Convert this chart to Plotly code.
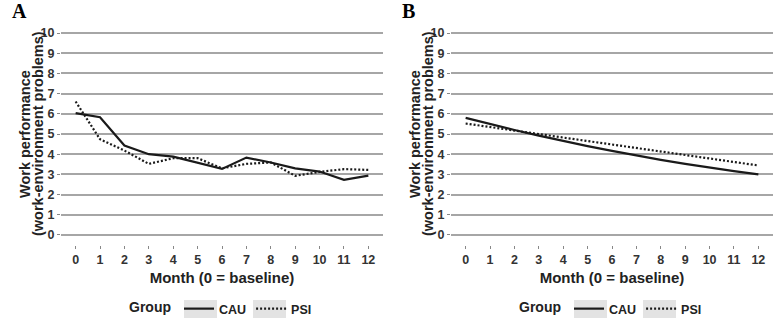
import plotly.graph_objects as go

months = list(range(13))
month_labels = [str(m) for m in months]
y_ticks = list(range(11))

# Panel A: observed means
cau_a = [6.03, 5.83, 4.43, 4.00, 3.88, 3.59, 3.27, 3.83, 3.59, 3.30, 3.14, 2.73, 2.94]
psi_a = [6.61, 4.74, 4.18, 3.52, 3.80, 3.80, 3.30, 3.52, 3.59, 2.93, 3.12, 3.26, 3.22]

# Panel B: model-estimated trajectories
cau_b = [5.80, 5.49, 5.20, 4.92, 4.65, 4.40, 4.16, 3.93, 3.72, 3.52, 3.33, 3.16, 3.00]
psi_b = [5.52, 5.34, 5.17, 4.99, 4.82, 4.65, 4.48, 4.31, 4.14, 3.97, 3.80, 3.62, 3.44]

groups = ["CAU", "PSI"]
group_title = "Group"
x_title = "Month (0 = baseline)"
y_title_lines = ["Work performance", "(work-environment problems)"]
panel_labels = ["A", "B"]

FONT = "Liberation Sans, Arial, sans-serif"
TXT = "#222222"
GRID = "#a6a6a6"

fig = go.Figure()

styles = {"CAU": dict(color="#1a1a1a", width=2.2, dash="solid"),
          "PSI": dict(color="#1a1a1a", width=2.2, dash="2px,2px")}

panels = [("x", "y", "legend", cau_a, psi_a), ("x2", "y2", "legend2", cau_b, psi_b)]
for xa, ya, lg, cau, psi in panels:
    for g, vals in zip(groups, [cau, psi]):
        fig.add_trace(go.Scatter(x=months, y=vals, mode="lines", name=g,
                                 line=styles[g], xaxis=xa, yaxis=ya, legend=lg,
                                 hoverinfo="skip"))

W, H = 777, 319
dom_a = [61 / W, 383 / W]
dom_b = [451 / W, 773 / W]
ydom = [(H - 245) / H, (H - 23) / H]

def xaxis(dom, anchor):
    return dict(domain=dom, anchor=anchor, range=[-0.6, 12.6], tickmode="array",
                tickvals=months, ticktext=month_labels, showgrid=False, zeroline=False,
                showline=False, ticks="outside", ticklen=3, tickwidth=1.2, tickcolor="#888888",
                tickfont=dict(family=FONT, size=12.5, color="#333333", weight="bold"),
                title=dict(text=x_title, font=dict(family=FONT, size=15, color=TXT,
                                                   weight="bold"), standoff=6),
                fixedrange=True, automargin=False)

def yaxis(anchor):
    return dict(domain=ydom, anchor=anchor, range=[-0.5, 10.5], tickmode="array",
                tickvals=y_ticks, ticktext=[str(v) for v in y_ticks], showgrid=True,
                gridcolor=GRID, gridwidth=1.5, zeroline=False, showline=False,
                ticks="outside", ticklen=3, tickwidth=1.2, tickcolor="#888888",
                tickfont=dict(family=FONT, size=12.5, color="#333333", weight="bold"),
                fixedrange=True, automargin=False)

annotations = []
shapes = []
for dom, lab in zip([dom_a, dom_b], panel_labels):
    annotations.append(dict(x=dom[0] - 51 / W, y=1 - 11 / H, xref="paper", yref="paper",
                            text="<b>%s</b>" % lab, showarrow=False, xanchor="left",
                            yanchor="middle",
                            font=dict(family="Liberation Serif, Times New Roman, serif",
                                      size=20, color="#000000")))
    for off, line in zip([-36, -23], y_title_lines):
        annotations.append(dict(x=dom[0] + off / W, y=(ydom[0] + ydom[1]) / 2,
                                xref="paper", yref="paper", text=line, textangle=-90,
                                showarrow=False, xanchor="center", yanchor="middle",
                                font=dict(family=FONT, size=14.5, color=TXT, weight="bold")))
    # light grey legend key backgrounds (ggplot style)
    left = dom[0] * W
    for k0 in (123, 192):
        shapes.append(dict(type="rect", xref="paper", yref="paper", layer="above",
                           x0=(left + k0) / W, x1=(left + k0 + 33) / W,
                           y0=1 / H, y1=19 / H, fillcolor="#e3e3e3", line=dict(width=0)))

def legend(dom):
    return dict(orientation="h", x=(dom[0] + dom[1]) / 2, xanchor="center",
                y=-5 / H, yanchor="bottom", bgcolor="rgba(0,0,0,0)",
                title=dict(text=group_title, side="left",
                           font=dict(family=FONT, size=14, color=TXT)),
                font=dict(family=FONT, size=12.5, color=TXT, weight="bold"), itemwidth=30,
                tracegroupgap=0)

fig.update_layout(
    width=W, height=H, autosize=False,
    margin=dict(l=0, r=0, t=0, b=0, autoexpand=False),
    paper_bgcolor="white", plot_bgcolor="white",
    xaxis=xaxis(dom_a, "y"), yaxis=yaxis("x"),
    xaxis2=xaxis(dom_b, "y2"), yaxis2=yaxis("x2"),
    legend=legend(dom_a), legend2=legend(dom_b),
    annotations=annotations, shapes=shapes,
    showlegend=True,
)

fig.write_html("out.html", post_script="document.body.style.margin='0';",
               config={"displayModeBar": False})
